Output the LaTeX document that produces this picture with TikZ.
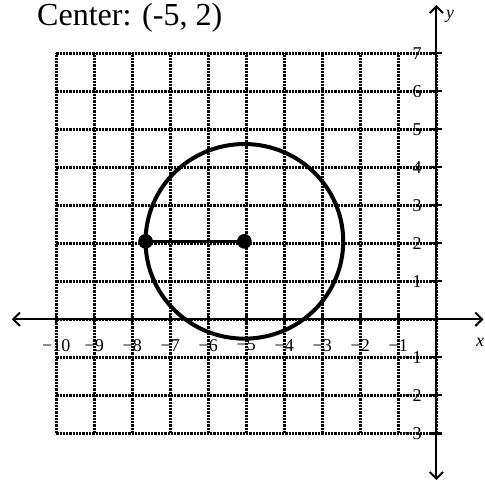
\documentclass[tikz,border=0pt]{standalone}
\usepackage{fontspec}
\setmainfont{Liberation Serif}
\usetikzlibrary{arrows.meta}
\tikzstyle{gridline}  = [line width=2.2pt, dash pattern=on 1.7pt off 0.75pt, draw=black]
\tikzstyle{axis}      = [line width=1.5pt,
                         {Straight Barb[length=5pt,width=10pt,line width=1.5pt]}-{Straight Barb[length=5pt,width=10pt,line width=1.5pt]}]
\tikzstyle{tickmark}  = [line width=1.8pt]
\tikzstyle{ticklabel} = [font=\fontsize{13.5}{16}\selectfont, inner sep=0pt]
\tikzstyle{curve}     = [line width=3pt]
\tikzstyle{radius}    = [line width=2.2pt]
\tikzstyle{dot}       = [circle, fill=black, inner sep=0pt, minimum size=11pt]
\newcommand{\mns}{\char"2212\relax}
\begin{document}
\begin{tikzpicture}
  \useasboundingbox (-11.48,-4.34) rectangle (1.28,8.40);

  % grid
  \draw[gridline] (-10,-3) grid (0,7);

  % axes
  \coordinate (xl) at (-11.17,0);
  \coordinate (xr) at (1.24,0);
  \coordinate (yb) at (0,-4.23);
  \coordinate (yt) at (0,8.27);
  \draw[axis] (xl) -- (xr);
  \draw[axis] (yb) -- (yt);
  \node[font=\fontsize{13.5}{16}\selectfont\itshape] (xlab) at (1.15,-0.6) {x};
  \node[font=\fontsize{13.5}{16}\selectfont\itshape] (ylab) at (0.36,7.96) {y};

  % ticks and labels
  \foreach \i in {-10,...,-1} {
    \draw[tickmark] (\i,0.15) -- (\i,-0.15);
    \node[ticklabel] at (\i,-0.68) {\mns\the\numexpr-\i\relax};
  }
  \foreach \j in {1,...,7} {
    \draw[tickmark] (-0.16,\j) -- (0.16,\j);
    \node[ticklabel, anchor=east] at (-0.38,\j) {\j};
  }
  \foreach \j in {-3,...,-1} {
    \draw[tickmark] (-0.16,\j) -- (0.16,\j);
    \node[ticklabel, anchor=east] at (-0.38,\j) {\mns\the\numexpr-\j\relax};
  }

  % circle with radius
  \coordinate (center) at (-5.05,2.05);
  \coordinate (edge) at (-7.65,2.05);
  \draw[curve] (center) ellipse (2.6 and 2.56);
  \draw[radius] (edge) -- (center);
  \node[dot] (dc) at (center) {};
  \node[dot] (de) at (edge) {};

  % title
  \node[font=\fontsize{24}{28}\selectfont, anchor=base west, inner sep=0pt] (title) at (-10.51,7.72) {Center: (-5, 2)};
\end{tikzpicture}
\end{document}
